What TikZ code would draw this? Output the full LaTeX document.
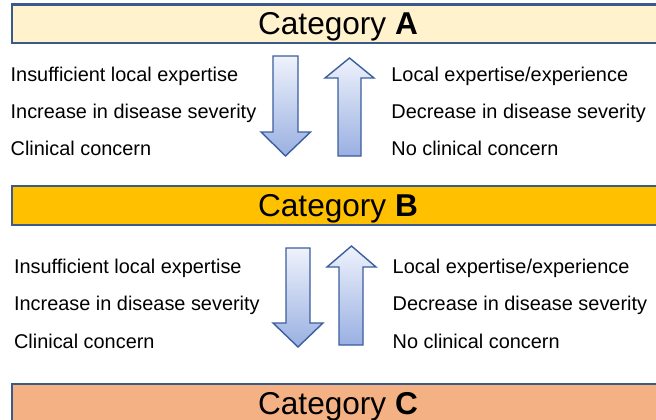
\documentclass[tikz,border=0pt]{standalone}
\usepackage{fontspec}
\setmainfont{Liberation Sans}
\begin{document}
\definecolor{catA}{HTML}{FFF2CC}
\definecolor{catB}{HTML}{FFC000}
\definecolor{catC}{HTML}{F4B183}
\definecolor{frame}{HTML}{3B5A8C}
\definecolor{arrowline}{HTML}{3A5E9E}
\definecolor{arrowtop}{HTML}{EEF2FB}
\definecolor{arrowbot}{HTML}{9AB0E2}
\begin{tikzpicture}[x=1pt,y=-1pt,
  catbox/.style={draw=frame,line width=2.2pt},
  cattitle/.style={anchor=base,inner sep=0pt,font=\fontsize{31.6}{36}\selectfont},
  reason/.style={anchor=base west,inner sep=0pt,font=\fontsize{19.9}{24}\selectfont},
  blockarrow/.style={draw=arrowline,line width=1.4pt,line join=miter,
    top color=arrowtop,bottom color=arrowbot}]
\useasboundingbox (0,0) rectangle (656,420);
\clip (0,0) rectangle (656,420);

% category bands
\draw[catbox,fill=catA] (12,4.5) rectangle (666,43);
\draw[catbox,fill=catB] (12,186) rectangle (666,225);
\draw[catbox,fill=catC] (12,384) rectangle (666,428);
\node[cattitle] (titleA) at (338,35) {Category \textbf{A}};
\node[cattitle] (titleB) at (338,216.5) {Category \textbf{B}};
\node[cattitle] (titleC) at (338,414.5) {Category \textbf{C}};

% reasons between A and B
\node[reason] (a1) at (10.5,81.2) {Insufficient local expertise};
\node[reason] (a2) at (10.5,118.5) {Increase in disease severity};
\node[reason] (a3) at (10.5,155.8) {Clinical concern};
\node[reason] (a4) at (391.2,81.2) {Local expertise/experience};
\node[reason] (a5) at (391.2,118.5) {Decrease in disease severity};
\node[reason] (a6) at (391.2,155.8) {No clinical concern};

% reasons between B and C
\node[reason] (b1) at (13.9,273) {Insufficient local expertise};
\node[reason] (b2) at (13.9,310.5) {Increase in disease severity};
\node[reason] (b3) at (13.9,348.3) {Clinical concern};
\node[reason] (b4) at (392.5,273) {Local expertise/experience};
\node[reason] (b5) at (392.5,310.5) {Decrease in disease severity};
\node[reason] (b6) at (392.5,348.3) {No clinical concern};

% block arrows, A <-> B
\draw[blockarrow] (273,56) -- (298,56) -- (298,132) -- (310.5,132)
  -- (285.5,156) -- (261,132) -- (273,132) -- cycle;
\draw[blockarrow] (349.5,58) -- (374,78) -- (361,78) -- (361,156)
  -- (338,156) -- (338,78) -- (325,78) -- cycle;

% block arrows, B <-> C
\draw[blockarrow] (286,248) -- (310,248) -- (310,323) -- (323,323)
  -- (298,347) -- (273,323) -- (286,323) -- cycle;
\draw[blockarrow] (351.5,246) -- (376,267) -- (363,267) -- (363,345)
  -- (339,345) -- (339,267) -- (327,267) -- cycle;
\end{tikzpicture}
\end{document}
